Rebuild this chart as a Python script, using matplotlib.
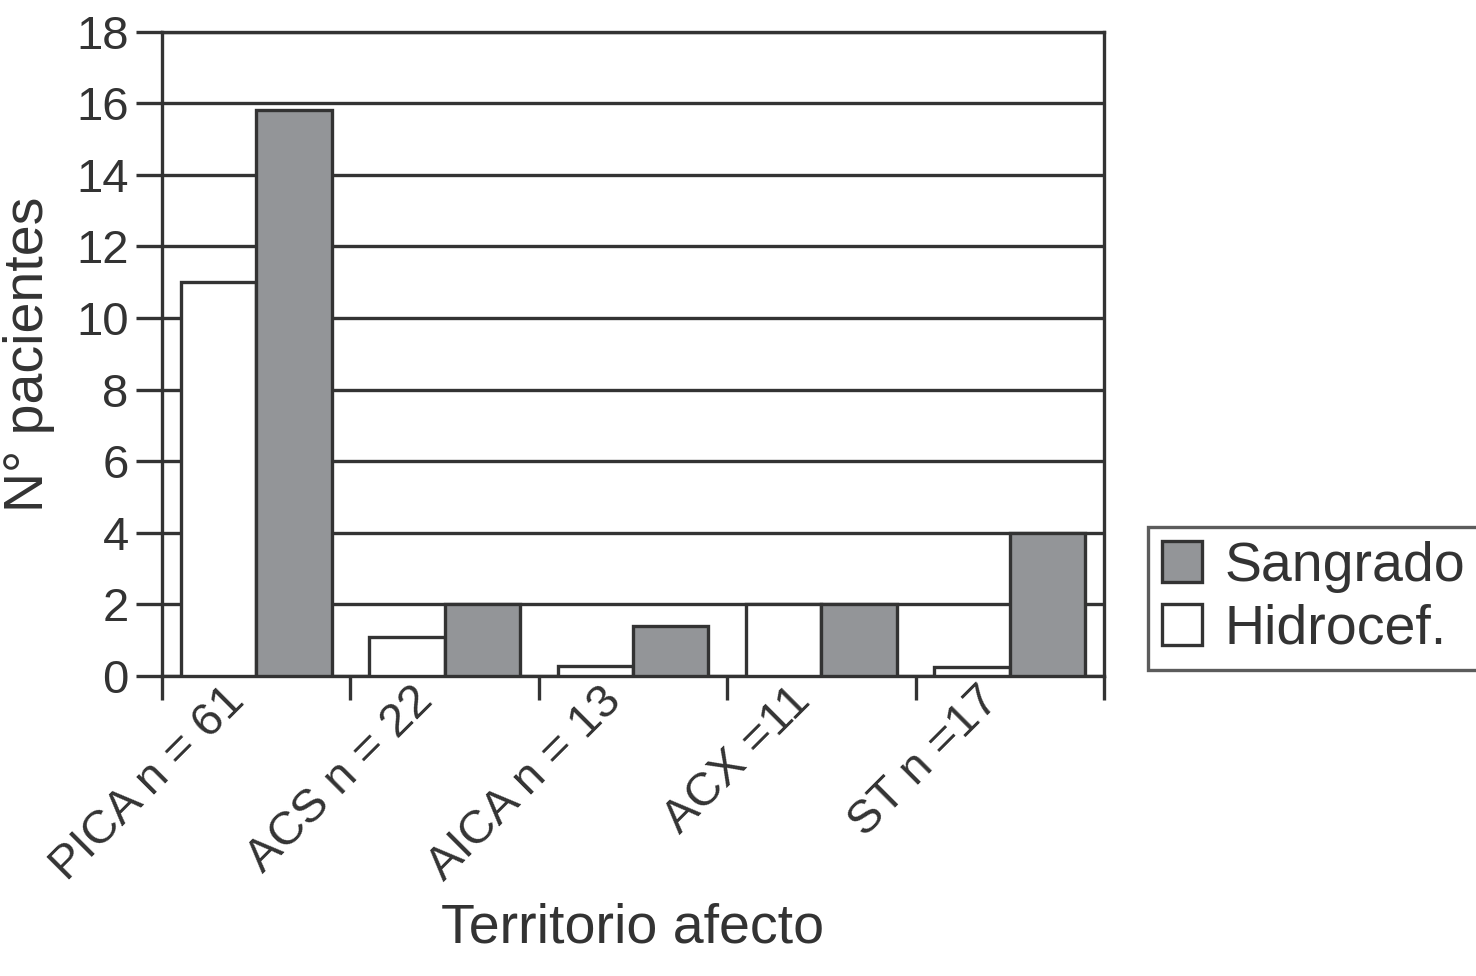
import matplotlib
matplotlib.use("Agg")
import matplotlib.pyplot as plt
import matplotlib.transforms as mtransforms
import numpy as np

categories = ["PICA n = 61", "ACS n = 22", "AICA n = 13", "ACX =11", "ST n =17"]
hidrocef = [11.0, 1.1, 0.28, 2.0, 0.25]
sangrado = [15.8, 2.0, 1.4, 2.0, 4.0]
yticks = list(range(0, 19, 2))

plt.rcParams['font.family'] = ['Liberation Sans', 'DejaVu Sans']
dark = '#333333'
gray = '#939598'
lw = 2.4

fig = plt.figure(figsize=(14.76, 9.76), dpi=100)
ax = fig.add_axes([162/1476, 1-676/976, (1104-162)/1476, (676-31.7)/976])

x = np.arange(len(categories))
ax.bar(x + 0.3, hidrocef, width=0.4, color='white', edgecolor=dark, linewidth=lw, label='Hidrocef.', zorder=3)
ax.bar(x + 0.7, sangrado, width=0.4, color=gray, edgecolor=dark, linewidth=lw, label='Sangrado', zorder=3)

ax.set_xlim(0, len(categories))
ax.set_ylim(0, 18)
ax.set_yticks(yticks)
ax.set_yticklabels([str(v) for v in yticks], fontsize=34, color=dark)
ax.yaxis.grid(True, color=dark, linewidth=lw)
ax.set_axisbelow(True)

ax.set_xticks(np.arange(len(categories) + 1))
ax.set_xticklabels([])
ax.set_xticks(x + 0.5, minor=True)
ax.set_xticklabels(categories, minor=True, rotation=45, ha='right', va='center',
                   rotation_mode='anchor', fontsize=34, color=dark)
ax.tick_params(axis='x', which='minor', length=0, pad=13)
ax.tick_params(axis='x', which='major', length=17, width=lw, color=dark, direction='out')
ax.tick_params(axis='y', which='major', length=19, width=lw, color=dark, direction='out', pad=5)

offset = mtransforms.ScaledTranslation(-18/100, 0, fig.dpi_scale_trans)
for lab in ax.get_xticklabels(minor=True):
    lab.set_transform(lab.get_transform() + offset)

for s in ax.spines.values():
    s.set_color(dark)
    s.set_linewidth(lw)

ax.set_xlabel('Territorio afecto', fontsize=40, color=dark)
ax.xaxis.set_label_coords(0.5, -0.352)
ax.set_ylabel('N° pacientes', fontsize=40, color=dark)
ax.yaxis.set_label_coords(-0.114, 0.5)

handles, labels = ax.get_legend_handles_labels()
leg = fig.legend(handles[::-1], labels[::-1], loc='upper left', bbox_to_anchor=(1148/1476, 1-527/976),
                 borderaxespad=0, fontsize=40, frameon=True, fancybox=False, edgecolor=dark,
                 handlelength=0.72, handleheight=0.75, handletextpad=0.4, borderpad=0.25,
                 labelspacing=0.2, labelcolor=dark)
leg.get_frame().set_linewidth(lw)

fig.savefig('out.png', dpi=100, facecolor='white')
